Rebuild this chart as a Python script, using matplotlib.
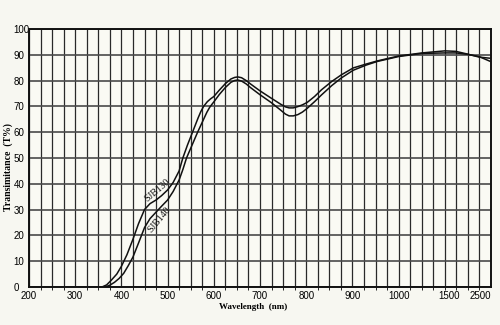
import numpy as np
import matplotlib
matplotlib.use("Agg")
import matplotlib.pyplot as plt
from matplotlib.scale import FuncScale
from matplotlib.ticker import FixedLocator, NullFormatter

# ---- data ----
wl_130 = [358, 368, 378, 390, 400, 412, 425, 437, 450, 462, 475, 487, 500, 512, 525, 533,
          543, 554, 566, 572, 578, 586, 593, 600, 612, 625, 637, 645, 652, 660, 670,
          680, 700, 724, 745, 755, 763, 772, 782, 792, 802, 818, 833, 855, 876, 902,
          930, 954, 1000, 1230, 1456, 1656, 1922, 2211, 2500]
t_130 = [0, 0.8, 2.6, 5, 8, 12.5, 18.5, 24.5, 30, 32.3, 33.7, 35.4, 37.6, 40.5, 45, 50,
         55, 60, 65.5, 68, 70, 71.8, 72.9, 73.8, 76.3, 78.8, 80.6, 81.2, 81.4, 81.1, 80.0,
         78.6, 76, 73.2, 70.8, 69.8, 69.4, 69.4, 69.9, 70.6, 71.5, 73.8, 76.4, 79.6, 82.2, 84.9,
         86.4, 87.6, 89.5, 90.7, 91.5, 91.3, 90.3, 89.1, 88.6]

wl_140 = [365, 375, 385, 395, 405, 415, 425, 437, 450, 462, 475, 487, 500, 512, 525, 533,
          541, 553, 565, 578, 585, 591, 596, 600, 612, 625, 637, 645, 652, 660, 670,
          680, 700, 724, 745, 755, 763, 772, 782, 792, 802, 818, 833, 855, 876, 902,
          930, 954, 1000, 1230, 1456, 1656, 1922, 2211, 2500]
t_140 = [0, 0.7, 1.8, 3.3, 5.3, 8.3, 11.6, 17, 23, 26.5, 29, 31.3, 33.7, 37, 41.5, 45.5,
         50, 55, 60, 65, 67.7, 69.6, 70.8, 71.7, 74.6, 77.3, 79.3, 80.0, 80.2, 79.8, 78.7,
         77.2, 74.5, 71.5, 68.5, 67.0, 66.3, 66.3, 66.8, 67.8, 69.2, 71.8, 74.4, 78, 81, 84,
         86, 87.4, 89.3, 90.5, 90.7, 90.7, 90.2, 89.3, 87.3]

x_tick_vals = [200, 300, 400, 500, 600, 700, 800, 900, 1000, 1500, 2500]
y_tick_vals = [0, 10, 20, 30, 40, 50, 60, 70, 80, 90, 100]

# non-uniform wavelength axis: linear 200-1000, compressed beyond
wl_knots = np.array([200.0, 1000.0, 1500.0, 2500.0])
pos_knots = np.array([0.0, 8.0, 9.1, 10.0])

def fwd(x):
    return np.interp(x, wl_knots, pos_knots)

def inv(p):
    return np.interp(p, pos_knots, wl_knots)

BG = "#f7f7f1"
fig = plt.figure(figsize=(5.0, 3.25), dpi=100, facecolor=BG)
ax = fig.add_axes([0.058, 0.117, 0.924, 0.794])
ax.set_facecolor("#fafaf4")
ax.set_xscale(FuncScale(ax, (fwd, inv)))
ax.set_xlim(200, 2500)
ax.set_ylim(0, 100)

# grid
grid_wl = inv(np.arange(0, 10.001, 0.25))
ax.xaxis.set_minor_locator(FixedLocator(list(grid_wl)))
ax.xaxis.set_minor_formatter(NullFormatter())
ax.yaxis.set_minor_locator(FixedLocator([]))
for g in grid_wl:
    ax.axvline(g, color="#2a2a2a", lw=0.9, zorder=1)
for v in y_tick_vals:
    ax.axhline(v, color="#4a4a4a", lw=1.2, zorder=1)

ax.plot(wl_130, t_130, color="#111111", lw=1.1, zorder=3, solid_joinstyle="round")
ax.plot(wl_140, t_140, color="#111111", lw=1.1, zorder=3, solid_joinstyle="round")

ax.text(478, 37.6, "SJB130", rotation=40, fontsize=7, family="Liberation Serif",
        color="#111111", ha="center", va="center", zorder=4)
ax.text(483, 26.0, "SJB140", rotation=50, fontsize=7, family="Liberation Serif",
        color="#111111", ha="center", va="center", zorder=4)

ax.set_xticks(x_tick_vals)
ax.set_xticklabels([str(v) for v in x_tick_vals], fontsize=7, family="Liberation Sans")
ax.get_xticklabels()[-1].set_ha("right")
ax.set_yticks(y_tick_vals)
ax.set_yticklabels([str(v) for v in y_tick_vals], fontsize=7, family="Liberation Sans",
                   ha="left")
ax.tick_params(axis="x", length=0, pad=3)
ax.tick_params(axis="y", length=0, pad=11)

for s in ax.spines.values():
    s.set_color("#111111")
    s.set_linewidth(1.4)
    s.set_zorder(5)

fig.text(0.506, 0.055, "Wavelength  (nm)", fontsize=6.5, family="Liberation Serif",
         weight="bold", ha="center", va="center")
fig.text(0.016, 0.485, "Transimitance  (T%)", fontsize=7, family="Liberation Serif",
         weight="bold", rotation=90, ha="center", va="center")

fig.savefig("out.png", dpi=100, facecolor=BG)
